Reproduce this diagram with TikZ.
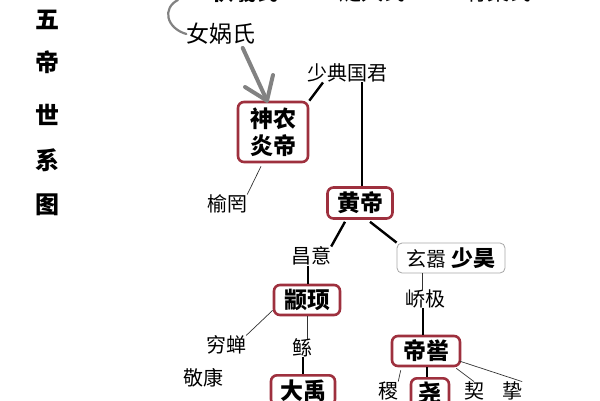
\documentclass[tikz,border=0pt]{standalone}
\usepackage{fontspec}
\newfontfamily\cjk{Noto Sans CJK SC}
\usetikzlibrary{calc}
\definecolor{boxred}{RGB}{158,48,62}
\definecolor{arrgray}{RGB}{130,130,130}
\tikzset{
  every node/.style={font=\cjk, inner sep=0pt},
  redbox/.style={draw=boxred, line width=2.6pt, rounded corners=6pt, fill=white, inner xsep=4pt, inner ysep=2pt, font=\cjk\bfseries\fontsize{23}{25}\selectfont},
  greybox/.style={draw=gray!70, line width=0.8pt, rounded corners=5pt, inner xsep=6pt, inner ysep=4pt, font=\cjk\fontsize{20}{22}\selectfont},
  lbl/.style={font=\cjk\fontsize{20}{22}\selectfont},
  thinline/.style={line width=0.7pt, draw=black!80},
  thickline/.style={line width=2.4pt},
  title/.style={font=\cjk\bfseries\fontsize{24}{26}\selectfont},
}
\begin{document}
\begin{tikzpicture}[x=1pt,y=-1pt]
\useasboundingbox (0,0) rectangle (600,400);
\clip (0,0) rectangle (600,400);
% top row, cut off by the top edge as in the reference
\node[font=\cjk\bfseries\fontsize{22}{24}\selectfont] (fuxi) at (245,-8) {伏羲氏};
\node[font=\cjk\fontsize{22}{24}\selectfont] (suiren) at (372,-8) {燧人氏};
\node[font=\cjk\fontsize{22}{24}\selectfont] (youchao) at (498,-8) {有巢氏};
% title
\node[title] (t1) at (47,20) {五};
\node[title] (t2) at (47,62) {帝};
\node[title] (t3) at (47,115) {世};
\node[title] (t4) at (47,160) {系};
\node[title] (t5) at (47,205) {图};
% nodes
\node[font=\cjk\fontsize{23}{26}\selectfont] (nuwa) at (221,34) {女娲氏};
\node[lbl] (shaodian) at (347,73) {少典国君};
\node[redbox, align=center, font=\cjk\bfseries\fontsize{23}{27}\selectfont, minimum width=70pt, minimum height=60pt] (shennong) at (273,132) {神农\\炎帝};
\node[redbox, minimum width=65pt, minimum height=31pt] (huangdi) at (360,203) {黄帝};
\node[lbl] (yuwang) at (227,204) {榆罔};
\node[lbl] (changyi) at (311,256) {昌意};
\node[greybox, minimum width=108pt, minimum height=30pt] (xuanxiao) at (451,258) {玄嚣 {\bfseries\fontsize{22}{24}\selectfont 少昊}};
\node[redbox, minimum width=66pt, minimum height=30pt] (zhuanxu) at (307,300) {颛顼};
\node[lbl] (qiaoji) at (425,299) {峤极};
\node[lbl] (qiongchan) at (226,345) {穷蝉};
\node[lbl] (gun) at (302,348) {鲧};
\node[redbox, minimum width=68pt, minimum height=30pt] (diku) at (426,351) {帝喾};
\node[lbl] (jingkang) at (203,378) {敬康};
\node[redbox, minimum width=64pt, minimum height=30pt, anchor=north] (dayu) at (303,374) {大禹};
\node[redbox, minimum width=38pt, minimum height=30pt, anchor=north] (yao) at (430,377) {尧};
\node[lbl] (ji) at (388,391) {稷};
\node[lbl] (xie) at (474,391) {契};
\node[lbl] (zhi) at (512,391) {挚};
% connectors
\draw[arrgray, line width=2.2pt, line cap=round] (178,0) .. controls (162,8) and (166,28) .. (nuwa.west);
\draw[arrgray, line width=4pt, line cap=round, line join=round] (nuwa.south east) ++(-13,3) coordinate (na) (na) -- (shennong.north -| 267,0);
\draw[arrgray, line width=4pt, line cap=round, line join=round] (245,87) -- (shennong.north -| 267,0) -- (273,75);
\draw[thickline] (shaodian.south -| 323,0) -- (shennong.north east);
\draw[thickline] (shaodian.south -| 362,0) -- (huangdi.north -| 362,0);
\draw[thinline] (shennong.south) ++(-12,3) coordinate (sn) (sn) -- (yuwang.north east);
\draw[thickline] (huangdi.south) ++(-15,2) coordinate (hl) (hl) -- (changyi.north east);
\draw[thickline] (huangdi.south) ++(10,2) coordinate (hr) (hr) -- (xuanxiao.north west);
\draw[thickline] (changyi.south -| 308,0) -- (zhuanxu.north -| 308,0);
\draw[thinline] (xuanxiao.south -| 422,0) -- (qiaoji.north -| 422,0);
\draw[thickline] (qiaoji.south -| 423,0) -- (diku.north -| 423,0);
\draw[thinline] (zhuanxu.south west) ++(0,-6) coordinate (zw) (zw) -- (qiongchan.north east);
\draw[thinline] (zhuanxu.south -| 307,0) -- (gun.north -| 307,0);
\draw[thickline] (gun.south -| 303,0) -- (dayu.north -| 303,0);
\draw[thickline] (diku.south -| 427,0) -- (yao.north -| 427,0);
\draw[thinline] (diku.south west) ++(10,3) coordinate (dw) (dw) -- (ji.north east);
\draw[thinline] (diku.south east) ++(-5,1) coordinate (de) (de) -- (xie.north);
\draw[thinline] (diku.east) ++(-2,10) coordinate (de2) (de2) -- (zhi.north east);
\end{tikzpicture}
\end{document}
